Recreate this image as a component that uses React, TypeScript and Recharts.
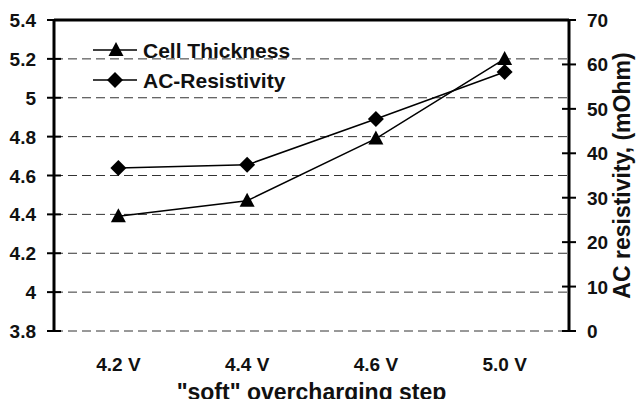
import React from "react"
import { LineChart, Line, XAxis, YAxis, CartesianGrid, ReferenceLine, Label } from "recharts"

const steps = ["4.2 V", "4.4 V", "4.6 V", "5.0 V"]
const cellThickness = [4.39, 4.47, 4.79, 5.2]
const acResistivity = [36.7, 37.4, 47.7, 58.3]
const leftTicks = [3.8, 4, 4.2, 4.4, 4.6, 4.8, 5, 5.2, 5.4]
const rightTicks = [0, 10, 20, 30, 40, 50, 60, 70]
const bandTicks = [0, 1, 2, 3, 4]
const stepTicks = steps.map((_, i) => i + 0.5)

const data = steps.map((s, i) => ({
  pos: i + 0.5,
  step: s,
  thickness: cellThickness[i],
  resistivity: acResistivity[i],
}))

const FONT = "'Liberation Sans', Arial, sans-serif"

const Triangle = ({ cx, cy }: any) => (
  <path d={`M${cx},${cy - 8} L${cx + 7.5},${cy + 6} L${cx - 7.5},${cy + 6} Z`} fill="#000" />
)
const Diamond = ({ cx, cy }: any) => (
  <path d={`M${cx},${cy - 8} L${cx + 8},${cy} L${cx},${cy + 8} L${cx - 8},${cy} Z`} fill="#000" />
)

const leftTick = ({ x, y, payload }: any) => (
  <g>
    <line x1={x + 1} x2={x + 15} y1={y} y2={y} stroke="#000" strokeWidth={2} />
    <text x={x - 10} y={y + 7} textAnchor="end" fontFamily={FONT} fontWeight="bold" fontSize={19} fill="#111">
      {payload.value}
    </text>
  </g>
)

const rightTick = ({ x, y, payload }: any) => (
  <g>
    <line x1={x - 15} x2={x - 1} y1={y} y2={y} stroke="#000" strokeWidth={2} />
    <text x={x + 10} y={y + 7} textAnchor="start" fontFamily={FONT} fontWeight="bold" fontSize={19} fill="#111">
      {payload.value}
    </text>
  </g>
)

const bandTick = ({ x, y }: any) => (
  <line x1={x} x2={x} y1={y - 8} y2={y + 6} stroke="#000" strokeWidth={2} />
)

const stepTick = ({ x, y, payload }: any) => (
  <text x={x} y={y + 32} textAnchor="middle" fontFamily={FONT} fontWeight="bold" fontSize={19} fill="#111">
    {steps[Math.round(payload.value - 0.5)]}
  </text>
)

const LegendBox = () => (
  <svg width={240} height={70} style={{ position: "absolute", left: 91, top: 35 }}>
    <g>
      <line x1={2} x2={46} y1={15} y2={15} stroke="#000" strokeWidth={1.5} />
      <Triangle cx={25} cy={15} />
      <text x={52} y={23} fontFamily={FONT} fontWeight="bold" fontSize={21} fill="#111">Cell Thickness</text>
    </g>
    <g>
      <line x1={2} x2={46} y1={45} y2={45} stroke="#000" strokeWidth={1.5} />
      <Diamond cx={24} cy={45} />
      <text x={52} y={53} fontFamily={FONT} fontWeight="bold" fontSize={21} fill="#111">AC-Resistivity</text>
    </g>
  </svg>
)

export default function App() {
  return (
    <div style={{ margin: -8, width: 644, height: 407, position: "relative" }}>
      <LineChart width={644} height={407} data={data} margin={{ top: 20, right: 0, bottom: 0, left: 0 }}>
        <CartesianGrid yAxisId="left" xAxisId="band" vertical={false} stroke="#333" strokeDasharray="9 5" strokeWidth={1} />
        <XAxis
          xAxisId="band"
          dataKey="pos"
          type="number"
          domain={[0, 4]}
          ticks={bandTicks}
          interval={0}
          height={0}
          axisLine={{ stroke: "#000", strokeWidth: 3 }}
          tickLine={false}
          tick={bandTick}
        />
        <XAxis
          xAxisId="labels"
          dataKey="pos"
          type="number"
          domain={[0, 4]}
          ticks={stepTicks}
          interval={0}
          height={76}
          axisLine={false}
          tickLine={false}
          tick={stepTick}
        >
          <Label
            value={'"soft" overcharging step'}
            position="insideBottom"
            offset={7}
            style={{ fontFamily: FONT, fontWeight: "bold", fontSize: 23, fill: "#111" }}
          />
        </XAxis>
        <YAxis
          yAxisId="left"
          domain={[3.8, 5.4]}
          ticks={leftTicks}
          interval={0}
          width={54}
          axisLine={{ stroke: "#000", strokeWidth: 3 }}
          tickLine={false}
          tick={leftTick}
        />
        <YAxis
          yAxisId="right"
          orientation="right"
          domain={[0, 70]}
          ticks={rightTicks}
          interval={0}
          width={75}
          axisLine={{ stroke: "#000", strokeWidth: 3 }}
          tickLine={false}
          tick={rightTick}
        >
          <Label
            value="AC resistivity, (mOhm)"
            angle={-90}
            position="insideRight"
            offset={22}
            style={{ fontFamily: FONT, fontWeight: "bold", fontSize: 23, fill: "#111", textAnchor: "middle" }}
          />
        </YAxis>
        <ReferenceLine yAxisId="left" xAxisId="band" y={5.4} stroke="#000" strokeWidth={3} />
        <Line
          xAxisId="band"
          yAxisId="left"
          dataKey="thickness"
          stroke="#000"
          strokeWidth={1.5}
          dot={Triangle}
          activeDot={false}
          isAnimationActive={false}
        />
        <Line
          xAxisId="band"
          yAxisId="right"
          dataKey="resistivity"
          stroke="#000"
          strokeWidth={1.5}
          dot={Diamond}
          activeDot={false}
          isAnimationActive={false}
        />
      </LineChart>
      <LegendBox />
    </div>
  )
}
